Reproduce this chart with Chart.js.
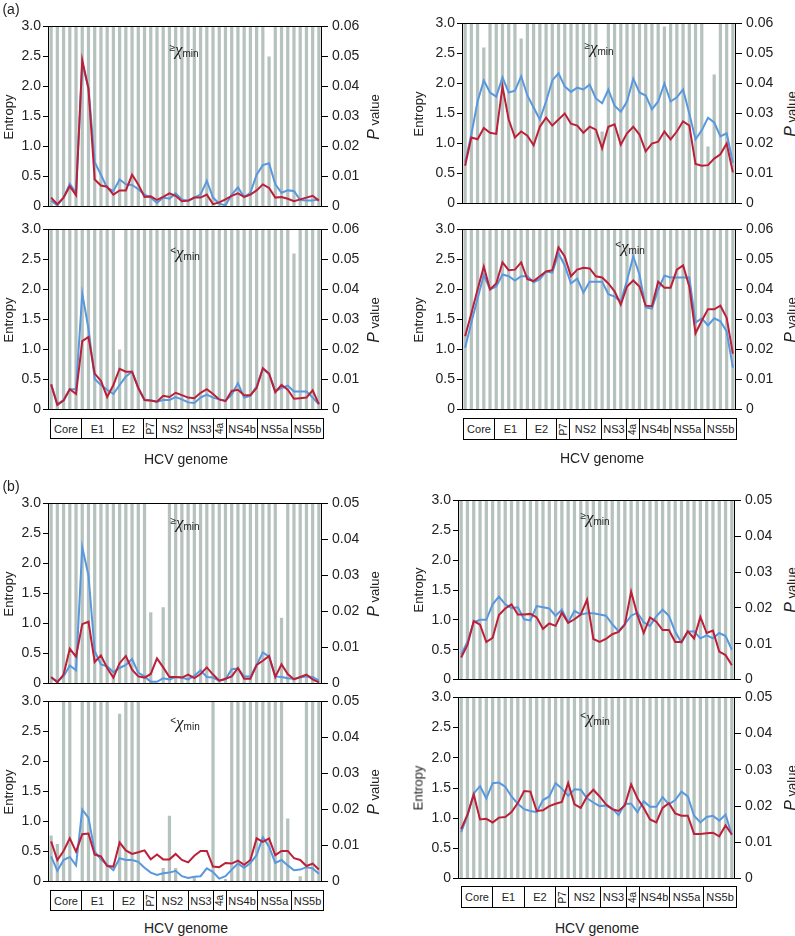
<!DOCTYPE html>
<html><head><meta charset="utf-8">
<script src="https://cdn.jsdelivr.net/npm/chart.js@4.4.1/dist/chart.umd.min.js"></script>
<style>
body{margin:0;background:#fff;}
#page{position:relative;width:795px;height:936px;overflow:hidden;font-family:"Liberation Sans",Arial,sans-serif;color:#222;background:#fff;}
.pnl{position:absolute;}
.t{position:absolute;white-space:nowrap;transform:translate(-50%,-50%);}
.vt{position:absolute;white-space:nowrap;transform:translate(-50%,-50%) rotate(-90deg);font-size:13px;}
.chi{position:absolute;transform:translate(-50%,-50%);white-space:nowrap;}
.chi .rel{font-size:10px;vertical-align:4px;}
.chi .x{font-family:"Liberation Serif","DejaVu Serif",serif;font-style:italic;font-size:17px;}
.chi sub{font-size:10px;vertical-align:-2px;}
.genome{position:absolute;background:#fff;}
.genome .cell{position:absolute;top:0;box-sizing:border-box;border:1px solid #000;display:flex;align-items:center;justify-content:center;font-size:11px;overflow:hidden;background:#fff;color:#222;}
.genome .cell span.r{display:inline-block;transform:rotate(-90deg);font-size:10px;}
</style></head>
<body><div id="page"></div>
<script>
// ---------- data ----------
const positions = [1,2,3,4,5,6,7,8,9,10,11,12,13,14,15,16,17,18,19,20,21,22,23,24,25,26,27,28,29,30,31,32,33,34,35,36,37,38,39,40,41,42,43,44];
const entropyTicks = [0,0.5,1,1.5,2,2.5,3];
const entropyTickLabels = ['0','0.5','1.0','1.5','2.0','2.5','3.0'];
const pTicksA = [0,0.01,0.02,0.03,0.04,0.05,0.06];
const pTickLabelsA = ['0','0.01','0.02','0.03','0.04','0.05','0.06'];
const pTicksB = [0,0.01,0.02,0.03,0.04,0.05];
const pTickLabelsB = ['0','0.01','0.02','0.03','0.04','0.05'];
const regionNames = ['Core','E1','E2','P7','NS2','NS3','4a','NS4b','NS5a','NS5b'];
const regionSpans = [91.5,96.5,90,38.5,96.5,76,38.5,91.5,101,97];

// (a) >= chi-min, left
const aTopLeftBlue = [0.10,0.02,0.15,0.38,0.23,2.39,1.98,0.74,0.53,0.31,0.26,0.45,0.37,0.36,0.29,0.20,0.15,0.06,0.15,0.13,0.22,0.12,0.09,0.15,0.20,0.43,0.15,0.05,0.02,0.20,0.32,0.16,0.23,0.53,0.69,0.72,0.37,0.23,0.27,0.26,0.11,0.10,0.10,0.12];
const aTopLeftRed  = [0.15,0.04,0.15,0.34,0.19,2.44,1.96,0.45,0.35,0.33,0.20,0.27,0.27,0.53,0.37,0.16,0.17,0.11,0.16,0.22,0.18,0.09,0.10,0.15,0.15,0.20,0.04,0.07,0.12,0.18,0.22,0.16,0.20,0.27,0.37,0.31,0.15,0.16,0.13,0.09,0.12,0.15,0.18,0.10];
const aTopLeftP    = [0.06,0.06,0.06,0.06,0.06,0.06,0.06,0.06,0.06,0.06,0.06,0.06,0.06,0.06,0.06,0.06,0.06,0.06,0.06,0.06,0.06,0.06,0.06,0.06,0.06,0.06,0.06,0.06,0.06,0.06,0.06,0.06,0.06,0.06,0.06,0.05,0.06,0.06,0.06,0.06,0.06,0.06,0.06,0.06];
// (a) >= chi-min, right
const aTopRightBlue = [0.69,1.15,1.70,2.05,1.85,1.78,2.10,1.85,1.88,2.12,1.80,1.60,1.40,1.70,2.05,2.17,1.95,1.86,1.93,1.90,1.98,1.75,1.67,1.90,1.63,1.53,1.70,2.08,1.85,1.80,1.57,1.70,2.00,1.70,1.77,1.90,1.50,1.07,1.22,1.43,1.35,1.12,1.17,0.68];
const aTopRightRed  = [0.63,1.10,1.07,1.26,1.18,1.16,1.95,1.40,1.10,1.20,1.13,0.97,1.28,1.43,1.30,1.40,1.50,1.33,1.30,1.18,1.28,1.23,0.92,1.28,1.32,0.98,1.17,1.28,1.15,0.87,1.00,1.03,1.20,1.07,1.20,1.37,1.30,0.66,0.63,0.64,0.75,0.82,1.00,0.52];
const aTopRightP    = [0.06,0.06,0.06,0.052,0.06,0.06,0.06,0.06,0.06,0.055,0.06,0.06,0.06,0.06,0.06,0.06,0.06,0.06,0.06,0.06,0.06,0.06,0.024,0.06,0.06,0.06,0.06,0.06,0.06,0.06,0.06,0.06,0.059,0.06,0.06,0.06,0.06,0.06,0.06,0.019,0.043,0.06,0.06,0.06];
// (a) < chi-min, left
const aBottomLeftBlue = [0.42,0.09,0.16,0.34,0.34,1.93,1.35,0.51,0.41,0.33,0.26,0.41,0.55,0.63,0.36,0.16,0.15,0.13,0.16,0.16,0.21,0.17,0.12,0.11,0.20,0.25,0.20,0.17,0.15,0.25,0.44,0.20,0.23,0.39,0.68,0.59,0.31,0.36,0.40,0.30,0.30,0.30,0.20,0.09];
const aBottomLeftRed  = [0.42,0.08,0.15,0.34,0.26,1.14,1.21,0.60,0.48,0.21,0.41,0.68,0.63,0.63,0.36,0.16,0.15,0.13,0.23,0.21,0.28,0.24,0.20,0.19,0.28,0.34,0.26,0.17,0.14,0.31,0.33,0.24,0.24,0.36,0.69,0.60,0.29,0.41,0.33,0.18,0.19,0.20,0.32,0.09];
const aBottomLeftP    = [0.06,0.06,0.06,0.06,0.06,0.06,0.06,0.06,0.06,0.06,0.06,0.02,0.06,0.06,0.06,0.06,0.06,0.06,0.06,0.06,0.06,0.06,0.06,0.06,0.06,0.06,0.06,0.06,0.06,0.06,0.06,0.06,0.06,0.06,0.06,0.06,0.06,0.06,0.06,0.052,0.06,0.06,0.06,0.06];
// (a) < chi-min, right
const aBottomRightBlue = [1.03,1.45,1.85,2.24,2.00,2.05,2.25,2.22,2.15,2.22,2.22,2.12,2.17,2.30,2.28,2.60,2.40,2.10,2.18,1.95,2.13,2.13,2.13,1.92,1.88,1.80,2.15,2.55,2.25,1.70,1.68,2.00,2.23,2.20,2.20,2.20,2.20,1.45,1.52,1.40,1.52,1.47,1.30,0.70];
const aBottomRightRed  = [1.22,1.60,2.00,2.38,2.00,2.10,2.45,2.32,2.33,2.45,2.17,2.14,2.22,2.30,2.32,2.70,2.55,2.22,2.33,2.36,2.35,2.22,2.20,2.10,1.97,1.75,2.05,2.15,2.05,1.73,1.72,2.13,2.03,2.03,2.33,2.40,2.05,1.27,1.48,1.67,1.67,1.73,1.53,0.93];
const aBottomRightP    = [0.06,0.06,0.06,0.06,0.06,0.06,0.06,0.06,0.06,0.06,0.06,0.06,0.06,0.06,0.06,0.06,0.06,0.06,0.06,0.06,0.06,0.06,0.06,0.06,0.06,0.06,0.06,0.06,0.06,0.06,0.06,0.06,0.06,0.06,0.06,0.06,0.06,0.06,0.06,0.06,0.06,0.06,0.06,0.06];
// (b) >= chi-min, left
const bTopLeftBlue = [0.10,0.04,0.12,0.30,0.22,2.27,1.80,0.54,0.32,0.29,0.19,0.26,0.31,0.41,0.18,0.12,0.03,0.03,0.09,0.07,0.11,0.10,0.07,0.13,0.22,0.11,0.10,0.05,0.07,0.24,0.25,0.12,0.12,0.31,0.52,0.45,0.12,0.11,0.09,0.08,0.10,0.12,0.11,0.05];
const bTopLeftRed  = [0.11,0.02,0.15,0.58,0.45,0.99,1.03,0.36,0.47,0.26,0.10,0.34,0.46,0.23,0.12,0.10,0.16,0.42,0.27,0.11,0.11,0.10,0.15,0.09,0.16,0.27,0.15,0.05,0.08,0.12,0.26,0.08,0.08,0.31,0.38,0.46,0.11,0.32,0.16,0.07,0.11,0.15,0.07,0.02];
const bTopLeftP    = [0.05,0.05,0.05,0.05,0.05,0.05,0.05,0.05,0.05,0.05,0.05,0.05,0.05,0.05,0.05,0.05,0.0198,0,0.0212,0.05,0.05,0.05,0.05,0.05,0.05,0.05,0.05,0.05,0.05,0.05,0.05,0.05,0.05,0.05,0.05,0.05,0.05,0.0183,0.05,0.05,0.05,0.05,0.05,0.05];
// (b) >= chi-min, right
const bTopRightBlue = [0.42,0.63,0.96,1.00,1.00,1.26,1.39,1.26,1.20,1.21,1.01,0.99,1.23,1.21,1.19,1.07,1.17,0.96,1.15,1.09,1.11,1.11,1.09,1.07,0.93,0.81,0.93,1.07,1.12,0.96,0.90,1.06,1.17,1.07,0.80,0.62,0.80,0.81,0.69,0.74,0.69,0.78,0.73,0.50];
const bTopRightRed  = [0.37,0.58,0.98,0.92,0.63,0.70,1.08,1.19,1.26,1.09,1.09,1.10,1.04,0.85,0.94,0.90,1.12,0.95,1.01,1.09,1.34,0.68,0.63,0.68,0.76,0.80,0.92,1.47,1.08,0.78,1.04,0.97,0.83,0.83,0.63,0.63,0.81,0.69,1.05,0.78,0.82,0.47,0.41,0.24];
const bTopRightP    = [0.05,0.05,0.05,0.05,0.05,0.05,0.05,0.05,0.05,0.05,0.05,0.05,0.05,0.05,0.05,0.05,0.05,0.05,0.05,0.05,0.05,0.05,0.05,0.05,0.05,0.05,0.05,0.05,0.05,0.05,0.05,0.05,0.05,0.05,0.05,0.05,0.05,0.05,0.05,0.05,0.05,0.05,0.05,0.05];
// (b) < chi-min, left
const bBottomLeftBlue = [0.42,0.18,0.36,0.41,0.27,1.20,1.06,0.50,0.37,0.28,0.19,0.39,0.36,0.36,0.33,0.23,0.15,0.11,0.14,0.15,0.18,0.09,0.06,0.08,0.09,0.22,0.16,0.05,0.09,0.20,0.30,0.23,0.31,0.44,0.74,0.58,0.31,0.36,0.27,0.19,0.20,0.24,0.22,0.13];
const bBottomLeftRed  = [0.67,0.36,0.51,0.72,0.50,0.79,0.80,0.45,0.42,0.26,0.25,0.65,0.52,0.46,0.49,0.52,0.37,0.45,0.37,0.37,0.46,0.36,0.32,0.43,0.51,0.51,0.25,0.24,0.31,0.30,0.35,0.28,0.36,0.72,0.66,0.72,0.44,0.51,0.51,0.39,0.36,0.26,0.30,0.20];
const bBottomLeftP    = [0.0128,0.0104,0.05,0.05,0,0.05,0.05,0.05,0.05,0.05,0,0.0466,0.05,0.05,0.05,0,0,0,0.0038,0.0183,0.0038,0,0,0.0012,0,0,0.05,0,0.0007,0.05,0.05,0.05,0.05,0.05,0.05,0.05,0.05,0.05,0.0175,0,0.0015,0.05,0.05,0.05];
// (b) < chi-min, right
const bBottomRightBlue = [0.77,1.04,1.41,1.53,1.33,1.58,1.59,1.52,1.36,1.24,1.15,1.12,1.10,1.30,1.36,1.58,1.49,1.37,1.48,1.47,1.33,1.26,1.20,1.21,1.16,1.05,1.24,1.24,1.10,1.28,1.19,1.19,1.35,1.23,1.30,1.44,1.36,1.04,0.93,1.02,1.04,0.96,1.06,0.72];
const bBottomRightRed  = [0.82,1.06,1.39,0.98,0.99,0.93,1.01,1.02,1.10,1.25,1.45,1.44,1.12,1.13,1.20,1.24,1.27,1.58,1.23,1.17,1.36,1.47,1.36,1.23,1.15,1.12,1.21,1.56,1.33,1.17,0.98,0.93,1.17,1.25,1.08,1.04,1.04,0.74,0.74,0.75,0.76,0.70,0.88,0.73];
const bBottomRightP    = [0.05,0.05,0.05,0.05,0.05,0.05,0.05,0.05,0.05,0.05,0.05,0.05,0.05,0.05,0.05,0.05,0.05,0.05,0.05,0.05,0.05,0.05,0.05,0.05,0.05,0.05,0.05,0.05,0.05,0.05,0.05,0.05,0.05,0.05,0.05,0.05,0.05,0.05,0.05,0.05,0.05,0.05,0.05,0.05];

// ---------- styles / layout ----------
const BLUE = 'rgb(88,152,222)';
const RED = 'rgb(188,32,56)';
const GREY = 'rgb(182,194,190)';
const WL = 48, WR = 45, PT = 10, PB = 10;

const panels = [
  {plot:[48,24,322,209], blue:aTopLeftBlue, red:aTopLeftRed, p:aTopLeftP, pt:pTicksA, pl:pTickLabelsA, rel:'≥', chi:[184,50], col:'L'},
  {plot:[462,21,736,206], blue:aTopRightBlue, red:aTopRightRed, p:aTopRightP, pt:pTicksA, pl:pTickLabelsA, rel:'≥', chi:[599,48], col:'R'},
  {plot:[48,227,322,412], blue:aBottomLeftBlue, red:aBottomLeftRed, p:aBottomLeftP, pt:pTicksA, pl:pTickLabelsA, rel:'<', chi:[185,253], col:'L'},
  {plot:[462,227,736,412], blue:aBottomRightBlue, red:aBottomRightRed, p:aBottomRightP, pt:pTicksA, pl:pTickLabelsA, rel:'<', chi:[630,247], col:'R'},
  {plot:[48,501,322,686], blue:bTopLeftBlue, red:bTopLeftRed, p:bTopLeftP, pt:pTicksB, pl:pTickLabelsB, rel:'≥', chi:[185,523], col:'L'},
  {plot:[458,498,735,682], blue:bTopRightBlue, red:bTopRightRed, p:bTopRightP, pt:pTicksB, pl:pTickLabelsB, rel:'≥', chi:[595,518], col:'R'},
  {plot:[48,699,322,884], blue:bBottomLeftBlue, red:bBottomLeftRed, p:bBottomLeftP, pt:pTicksB, pl:pTickLabelsB, rel:'<', chi:[185,723], col:'L'},
  {plot:[458,695,735,881], blue:bBottomRightBlue, red:bBottomRightRed, p:bBottomRightP, pt:pTicksB, pl:pTickLabelsB, rel:'<', chi:[595,718], col:'R'}
];
const genomeBoxes = [[50,418,323,439],[463,418,736,440],[50,890,323,911],[461,886,736,908]];
const genomeTitles = [[186,459],[602,458],[186,928],[597,928]];

const page = document.getElementById('page');
Chart.defaults.font.family = '"Liberation Sans", Arial, sans-serif';
Chart.defaults.color = '#222';

const framePlugin = {
  id:'frame',
  afterDatasetsDraw(chart){
    const a = chart.chartArea, ctx = chart.ctx;
    ctx.save();
    ctx.strokeStyle = '#000'; ctx.lineWidth = 1;
    const l = Math.round(a.left)+0.5, t = Math.round(a.top)+0.5;
    const r = Math.round(a.right)-0.5, b = Math.round(a.bottom)-0.5;
    ctx.strokeRect(l, t, r-l, b-t);
    ctx.restore();
  }
};

function makePanel(p){
  const [x0,y0,x1,y1] = p.plot;
  const W = WL + (x1-x0) + WR, H = (y1-y0) + PT + PB;
  const div = document.createElement('div');
  div.className = 'pnl';
  div.style.left = (x0-WL)+'px'; div.style.top = (y0-PT)+'px';
  const cv = document.createElement('canvas');
  cv.width = W; cv.height = H; cv.style.width = W+'px'; cv.style.height = H+'px';
  div.appendChild(cv); page.appendChild(div);
  new Chart(cv, {
    type:'bar',
    data:{labels:positions, datasets:[
      {type:'line', data:p.red, borderColor:RED, borderWidth:2, pointRadius:0, tension:0, yAxisID:'y', order:1},
      {type:'line', data:p.blue, borderColor:BLUE, borderWidth:2, pointRadius:0, tension:0, yAxisID:'y', order:2},
      {type:'bar', data:p.p, backgroundColor:GREY, yAxisID:'y2', barPercentage:0.52, categoryPercentage:1, order:3}
    ]},
    options:{
      responsive:false, animation:false, devicePixelRatio:1,
      layout:{padding:{top:PT,bottom:PB,left:0,right:0}},
      plugins:{legend:{display:false}, tooltip:{enabled:false}},
      scales:{
        x:{display:false, offset:true},
        y:{position:'left', min:0, max:3,
           afterFit:s=>{s.width=WL;},
           afterBuildTicks:s=>{s.ticks = entropyTicks.map(v=>({value:v}));},
           ticks:{callback:(v,i)=>entropyTickLabels[i], padding:2, color:'#222', font:{size:14}},
           grid:{drawOnChartArea:false, tickLength:5, color:'#000', lineWidth:1},
           border:{display:false}},
        y2:{position:'right', min:0, max:p.pt[p.pt.length-1],
           afterFit:s=>{s.width=WR;},
           afterBuildTicks:s=>{s.ticks = p.pt.map(v=>({value:v}));},
           ticks:{callback:(v,i)=>p.pl[i], padding:4, color:'#222', font:{size:14}},
           grid:{drawOnChartArea:false, tickLength:6, color:'#000', lineWidth:1},
           border:{display:false}}
      }
    },
    plugins:[framePlugin]
  });
}
panels.forEach(makePanel);

function addText(html, x, y, cls, style){
  const s = document.createElement('div');
  s.className = cls; s.innerHTML = html;
  s.style.left = x+'px'; s.style.top = y+'px';
  if (style) s.style.cssText += style;
  page.appendChild(s);
}
panels.forEach(p=>{
  const [x0,y0,x1,y1] = p.plot;
  const cy = (y0+y1)/2;
  const ex = p.col==='L' ? 8 : 418;
  const px = p.col==='L' ? 374 : 791;
  addText('Entropy', ex, cy, 'vt');
  addText('<i style="font-size:16px">P</i> value', px, cy, 'vt');
  addText('<span class="rel">'+(p.rel==='<'?'&lt;':p.rel)+'</span><span class="x">χ</span><sub>min</sub>', p.chi[0], p.chi[1], 'chi');
});
const spanTotal = regionSpans.reduce((a,b)=>a+b,0);
genomeBoxes.forEach(g=>{
  const d = document.createElement('div');
  d.className = 'genome';
  const w = g[2]-g[0], h = g[3]-g[1];
  d.style.left = g[0]+'px'; d.style.top = g[1]+'px';
  d.style.width = w+'px'; d.style.height = h+'px';
  let acc = 0;
  regionNames.forEach((n,i)=>{
    const xs = Math.round(acc/spanTotal*w);
    acc += regionSpans[i];
    const xe = Math.round(acc/spanTotal*w);
    const c = document.createElement('div');
    c.className = 'cell';
    c.style.left = xs+'px';
    c.style.width = (xe-xs+1)+'px';
    c.style.height = h+'px';
    c.innerHTML = (n==='P7'||n==='4a') ? '<span class="r">'+n+'</span>' : n;
    d.appendChild(c);
  });
  page.appendChild(d);
});
genomeTitles.forEach(t=>addText('HCV genome', t[0], t[1], 't', 'font-size:14px;'));
addText('(a)', 11, 9, 't', 'font-size:14px;');
addText('(b)', 11, 486, 't', 'font-size:14px;');
</script></body></html>
